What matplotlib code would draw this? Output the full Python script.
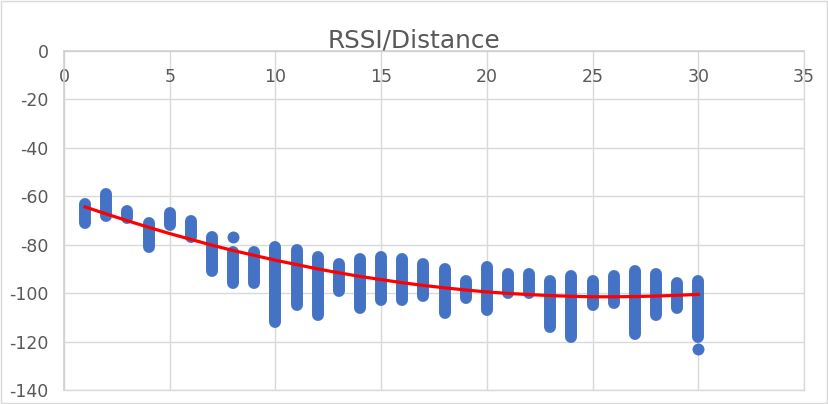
import numpy as np
import matplotlib
matplotlib.use('Agg')
import matplotlib.pyplot as plt
from matplotlib.patches import Rectangle

plt.rcParams['axes.unicode_minus'] = False

# Distance (m) and the range of RSSI readings seen at each distance
distance = list(range(1, 31))
rssi_max = [-63, -59, -66, -71, -67, -70, -77, -83, -83, -81,
            -82, -85, -88, -86, -85, -86, -88, -90, -95, -89,
            -92, -92, -95, -93, -95, -93, -91, -92, -96, -95]
rssi_min = [-71, -68, -69, -81, -72, -77, -91, -96, -96, -112,
            -105, -109, -99, -106, -103, -103, -101, -108, -102, -107,
            -100, -100, -114, -118, -105, -104, -117, -109, -106, -118]

# single readings that sit apart from their column
outlier_x = [8, 30]
outlier_y = [-77, -123]

# polynomial trendline at each distance
trend = [-64.4, -67.3, -70.1, -72.8, -75.4, -77.8, -80.2, -82.4, -84.4, -86.4,
         -88.2, -90.0, -91.6, -93.1, -94.4, -95.7, -96.8, -97.8, -98.7, -99.5,
         -100.1, -100.6, -101.0, -101.3, -101.5, -101.5, -101.4, -101.2, -100.9, -100.5]

blue = '#4472C4'
grey_txt = '#595959'
grid_col = '#D9D9D9'

fig = plt.figure(figsize=(8.29, 4.04), dpi=100)
fig.patches.append(Rectangle((0.001, 0.002), 0.997, 0.995, transform=fig.transFigure,
                             fill=False, edgecolor='#D9D9D9', linewidth=1))
ax = fig.add_axes([64 / 829, 1 - 390 / 404, 740 / 829, 339 / 404])

marker_pt = 8.6
ax.vlines(distance, rssi_min, rssi_max, colors=blue, linewidth=marker_pt,
          capstyle='round', zorder=3)
ax.scatter(outlier_x, outlier_y, s=marker_pt ** 2, color=blue, linewidths=0, zorder=3)
ax.plot(distance, trend, color='#FF0000', linewidth=2.3, zorder=4)

ax.set_xlim(0, 35)
ax.set_ylim(-140, 0)
ax.set_xticks(range(0, 36, 5))
ax.set_yticks(range(-140, 1, 20))

ax.grid(True, color=grid_col, linewidth=1)
ax.set_axisbelow(True)
for side in ['bottom', 'right']:
    ax.spines[side].set_color(grid_col)
    ax.spines[side].set_linewidth(1)
for side in ['top', 'left']:
    ax.spines[side].set_color('#D0D0D0')
    ax.spines[side].set_linewidth(1.2)

ax.xaxis.tick_top()
ax.tick_params(axis='x', length=0, pad=-25, labelsize=12.5, labelcolor=grey_txt)
ax.tick_params(axis='y', length=0, pad=11, labelsize=12.5, labelcolor=grey_txt)

fig.text(0.5, 1 - 47 / 404, 'RSSI/Distance', ha='center', va='baseline',
         fontsize=17.8, color=grey_txt)

fig.savefig('out.png', dpi=100)
